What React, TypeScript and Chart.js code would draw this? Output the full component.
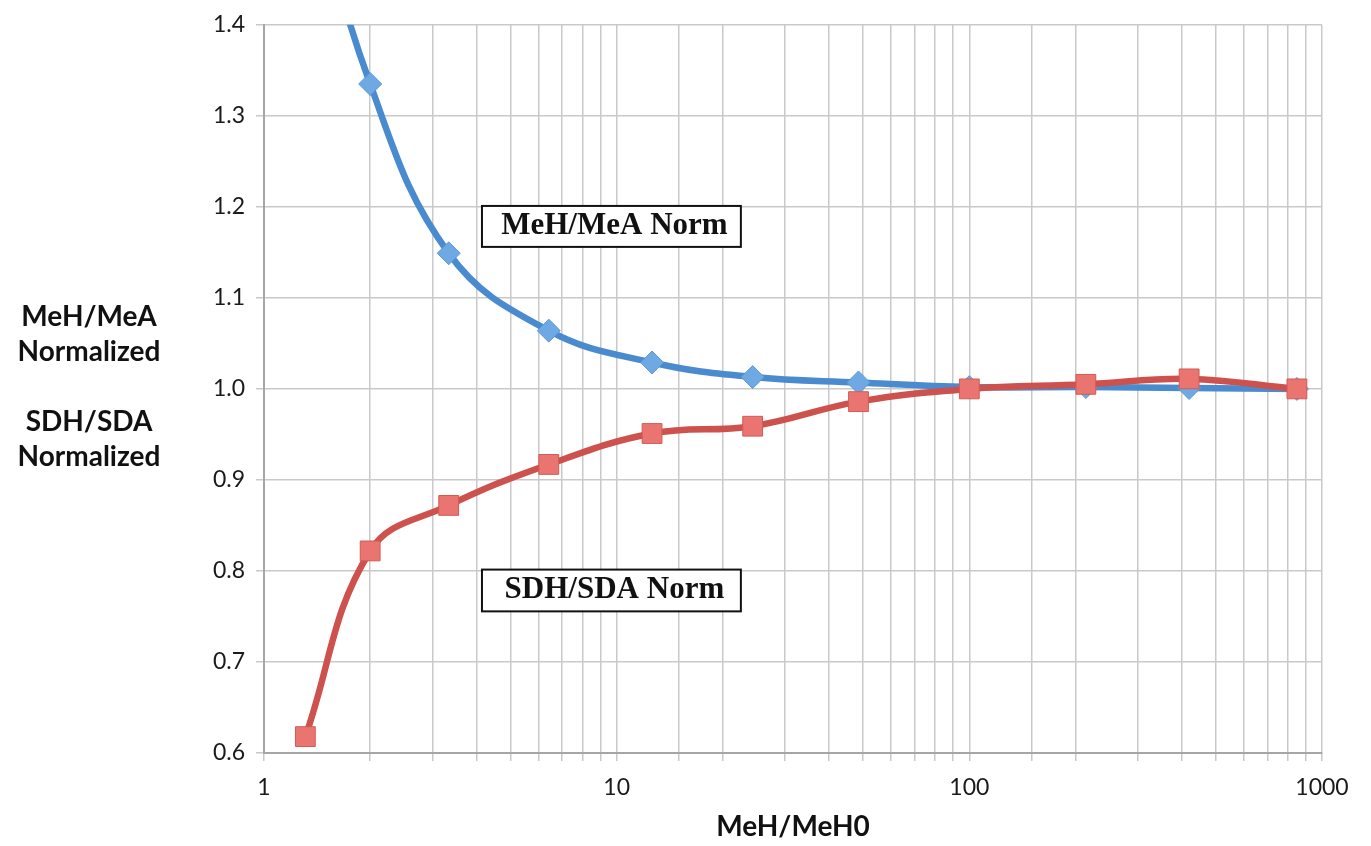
import React, { useEffect, useRef } from "react";
import { Chart, registerables } from "chart.js";

Chart.register(...registerables);

// ---- data ----
const xValues = [1.31, 2.0, 3.34, 6.42, 12.6, 24.3, 48.5, 100, 214, 420, 849];
const meaNorm = [1.58, 1.335, 1.149, 1.064, 1.029, 1.013, 1.007, 1.002, 1.002, 1.001, 1.0];
const sdaNorm = [0.618, 0.822, 0.872, 0.917, 0.951, 0.959, 0.986, 1.0, 1.005, 1.011, 1.0];
const seriesNames = ["MeH/MeA Norm", "SDH/SDA Norm"];
const yTitleLines = ["MeH/MeA", "Normalized", "SDH/SDA", "Normalized"];
const xTitle = "MeH/MeH0";
const majorXTicks = [1, 10, 100, 1000];

const W = 1371;
const H = 846;

const labelBoxes = [
  { text: seriesNames[0], x0: 4.15, x1: 22.5, yTop: 1.201, yBottom: 1.156 },
  { text: seriesNames[1], x0: 4.15, x1: 22.5, yTop: 0.8015, yBottom: 0.7556 },
];

const overlayPlugin = {
  id: "overlay",
  afterDatasetsDraw(chart: any) {
    const ctx = chart.ctx as CanvasRenderingContext2D;
    const xs = chart.scales.x;
    const ys = chart.scales.y;
    ctx.save();
    // annotation boxes
    labelBoxes.forEach((b) => {
      const l = xs.getPixelForValue(b.x0);
      const r = xs.getPixelForValue(b.x1);
      const t = ys.getPixelForValue(b.yTop);
      const bt = ys.getPixelForValue(b.yBottom);
      ctx.fillStyle = "#ffffff";
      ctx.fillRect(l, t, r - l, bt - t);
      ctx.strokeStyle = "#111111";
      ctx.lineWidth = 2;
      ctx.strokeRect(l, t, r - l, bt - t);
      ctx.fillStyle = "#111111";
      ctx.font = "bold 31px 'Liberation Serif', serif";
      ctx.textAlign = "center";
      ctx.textBaseline = "alphabetic";
      ctx.fillText(b.text, (l + r) / 2 + 3, bt - 13);
    });
    // y axis title (horizontal, multi-line)
    const cy = ys.getPixelForValue(1.0);
    const offsets = [-63, -28, 42, 77];
    ctx.font = "bold 28px Lato, sans-serif";
    ctx.fillStyle = "#111111";
    ctx.textAlign = "center";
    ctx.textBaseline = "alphabetic";
    yTitleLines.forEach((s, i) => {
      ctx.fillText(s, 89, cy + offsets[i]);
    });
    ctx.restore();
  },
};

export default function App() {
  const ref = useRef<HTMLCanvasElement | null>(null);
  useEffect(() => {
    if (!ref.current) return;
    const blue = xValues.map((x, i) => ({ x, y: meaNorm[i] }));
    const red = xValues.map((x, i) => ({ x, y: sdaNorm[i] }));
    const chart = new Chart(ref.current, {
      type: "line",
      data: {
        datasets: [
          {
            label: seriesNames[1],
            data: red,
            borderColor: "#cd514d",
            backgroundColor: "#ea7570",
            pointBackgroundColor: "#ea7570",
            pointBorderColor: "#d35a55",
            pointBorderWidth: 1,
            pointStyle: "rect",
            pointRadius: 14,
            borderWidth: 6.5,
            tension: 0.4,
            order: 0,
          },
          {
            label: seriesNames[0],
            data: blue,
            borderColor: "#4a8bcf",
            backgroundColor: "#6ea9e4",
            pointBackgroundColor: "#6ea9e4",
            pointBorderColor: "#5a98d8",
            pointBorderWidth: 1,
            pointStyle: "rectRot",
            pointRadius: 11.5,
            borderWidth: 6.5,
            tension: 0.4,
            order: 1,
          },
        ],
      },
      options: {
        responsive: false,
        animation: false,
        layout: { padding: { top: 22, right: 49, left: 0, bottom: 0 } },
        elements: { line: { capBezierPoints: false } },
        plugins: {
          legend: { display: false },
          tooltip: { enabled: false },
        },
        scales: {
          x: {
            type: "logarithmic",
            min: 1,
            max: 1000,
            afterFit: (s: any) => {
              s.height = 93;
            },
            border: { color: "#a6a6a6", width: 2 },
            grid: {
              color: "#c9c9c9",
              lineWidth: 1.5,
              tickLength: 8,
              drawTicks: true,
            },
            ticks: {
              autoSkip: false,
              maxRotation: 0,
              padding: 13,
              color: "#1a1a1a",
              font: { family: "Lato, sans-serif", size: 23 },
              callback: (v: any) => (majorXTicks.includes(Number(v)) ? String(v) : ""),
            },
            title: {
              display: true,
              text: xTitle,
              color: "#111111",
              font: { family: "Lato, sans-serif", size: 28, weight: "bold" },
              padding: { top: 0, bottom: 2 },
            },
          },
          y: {
            type: "linear",
            min: 0.6,
            max: 1.4,
            afterFit: (s: any) => {
              s.width = 264;
            },
            border: { color: "#a6a6a6", width: 2 },
            grid: { color: "#c9c9c9", lineWidth: 1.5, tickLength: 8 },
            ticks: {
              stepSize: 0.1,
              padding: 11,
              color: "#1a1a1a",
              font: { family: "Lato, sans-serif", size: 23 },
              callback: (v: any) => Number(v).toFixed(1),
            },
          },
        },
      },
      plugins: [overlayPlugin],
    });
    return () => chart.destroy();
  }, []);
  return (
    <div style={{ position: "absolute", left: 0, top: 0, width: W, height: H, background: "#fff" }}>
      <canvas ref={ref} width={W} height={H} style={{ width: W, height: H, display: "block" }} />
    </div>
  );
}
